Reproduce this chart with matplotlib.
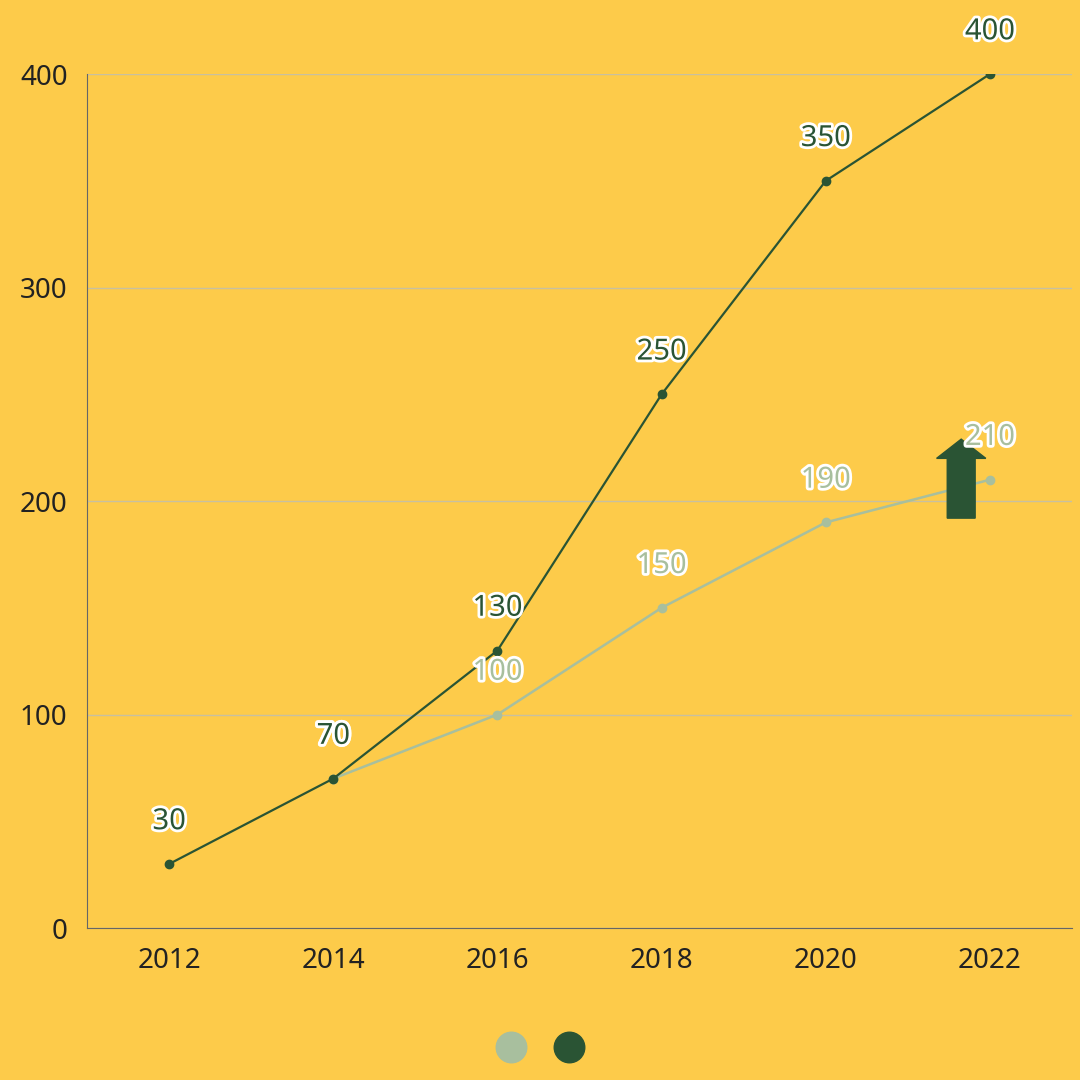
import matplotlib.pyplot as plt
import matplotlib.patheffects as pe
from matplotlib.lines import Line2D

plt.rcParams['font.family'] = ['Noto Sans', 'DejaVu Sans']

BG = "#FDCB4A"
DARK = "#2A5434"
LIGHT = "#A8BF9E"

years_dark = [2012, 2014, 2016, 2018, 2020, 2022]
values_dark = [30, 70, 130, 250, 350, 400]
years_light = [2014, 2016, 2018, 2020, 2022]
values_light = [70, 100, 150, 190, 210]

fig = plt.figure(figsize=(10.8, 10.8), dpi=100, facecolor=BG)
ax = fig.add_axes([0.0806, 0.1407, 0.912, 0.7907], facecolor=BG)

ax.plot(years_light, values_light, color=LIGHT, lw=1.8, marker="o", ms=6, zorder=3)
ax.plot(years_dark, values_dark, color=DARK, lw=1.6, marker="o", ms=6, zorder=4)

stroke = [pe.withStroke(linewidth=4, foreground="white")]
for x, y in zip(years_light, values_light):
    ax.text(x, y + 13, str(y), color=LIGHT, fontsize=21, ha="center", va="bottom",
            path_effects=stroke, zorder=6)
for x, y in zip(years_dark, values_dark):
    ax.text(x, y + 13, str(y), color=DARK, fontsize=21, ha="center", va="bottom",
            path_effects=stroke, zorder=6)

# up arrow decoration
ax.arrow(2021.65, 192, 0, 28, width=0.34, head_width=0.6, head_length=9,
         length_includes_head=False, color=DARK, zorder=5)

ax.set_xlim(2011, 2023)
ax.set_ylim(0, 400)
ax.set_xticks(years_dark)
ax.set_yticks([0, 100, 200, 300, 400])
ax.tick_params(length=0, labelsize=20, colors="#222222", pad=14)
ax.tick_params(axis="y", pad=14)
ax.yaxis.grid(True, color="#C8C0A0", lw=1)
ax.set_axisbelow(True)
for s in ["top", "right"]:
    ax.spines[s].set_visible(False)
for s in ["left", "bottom"]:
    ax.spines[s].set_color("#666666")
    ax.spines[s].set_linewidth(0.8)

handles = [Line2D([], [], ls="", marker="o", ms=22, color=c) for c in (LIGHT, DARK)]
fig.legend(handles, ["", ""], ncol=2, loc="center", bbox_to_anchor=(0.5, 0.029),
           frameon=False, handletextpad=0, columnspacing=2.2)

fig.savefig("out.png", dpi=100, facecolor=BG)
